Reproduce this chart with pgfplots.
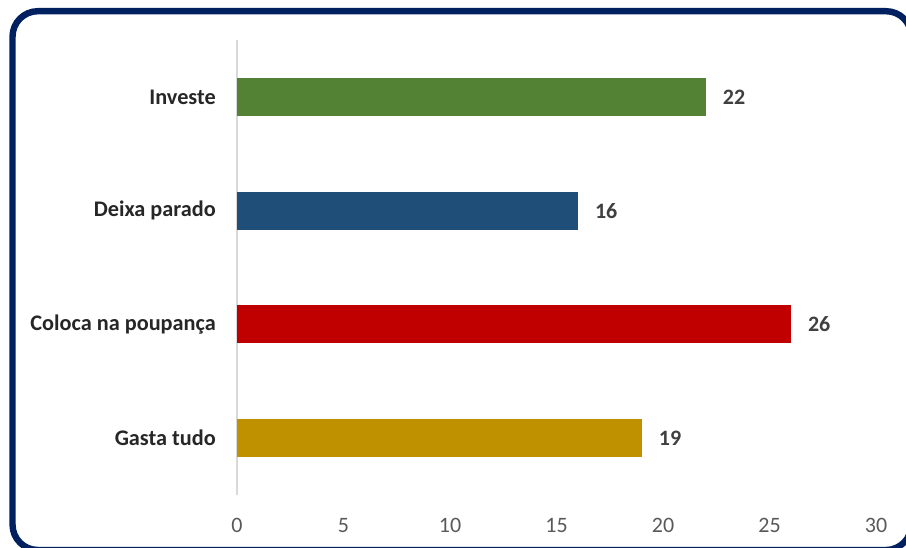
\documentclass[border=0pt]{standalone}
\usepackage{pgfplots}
\pgfplotsset{compat=1.18}
\usepackage{fontspec}
\setmainfont{Carlito}
\definecolor{cgreen}{HTML}{548235}
\definecolor{cblue}{HTML}{1F4E79}
\definecolor{cred}{HTML}{C00000}
\definecolor{cgold}{HTML}{BF9000}
\definecolor{frame}{HTML}{002060}
\definecolor{axgray}{HTML}{D9D9D9}
\definecolor{lblcol}{HTML}{262626}
\definecolor{valcol}{HTML}{404040}
\definecolor{tickcol}{HTML}{595959}
\begin{document}
\begin{tikzpicture}
\useasboundingbox (0,0) rectangle (679.5pt,-411pt);
\begin{scope}
\clip (0,0) rectangle (679.5pt,-411pt);
\draw[line width=4.8pt, draw=frame, rounded corners=19pt] (9.4pt,-8.4pt) rectangle (683.5pt,-412.5pt);
\end{scope}
\begin{axis}[
  at={(177.75pt,-371.25pt)}, anchor=south west,
  width=479.25pt, height=341.25pt, scale only axis,
  xmin=0, xmax=30, ymin=-0.5, ymax=3.5, y dir=reverse,
  xtick={0,5,10,15,20,25,30},
  ytick={0,1,2,3},
  yticklabels={Investe, Deixa parado, Coloca na poupança, Gasta tudo},
  axis lines*=left,
  x axis line style={draw=none},
  y axis line style={draw=axgray, line width=0.9pt},
  major tick length=0pt,
  /pgf/number format/assume math mode=true,
  xticklabel style={font=\fontsize{16.5pt}{18pt}\selectfont, text=tickcol, anchor=north, inner sep=0pt, yshift=-17pt},
  yticklabel style={font=\fontsize{16.7pt}{18pt}\selectfont\bfseries, text=lblcol, anchor=east, inner sep=0pt, xshift=-15.75pt},
  clip=false,
  point meta=x,
  nodes near coords,
  every node near coord/.append style={font=\fontsize{16.5pt}{18pt}\selectfont\bfseries, text=valcol, anchor=west, inner sep=0pt, xshift=12.75pt},
]
\addplot[xbar, bar shift=0pt, bar width=28.5pt, fill=cgreen, draw=none] coordinates {(22,0)};
\addplot[xbar, bar shift=0pt, bar width=28.5pt, fill=cblue, draw=none] coordinates {(16,1)};
\addplot[xbar, bar shift=0pt, bar width=28.5pt, fill=cred, draw=none] coordinates {(26,2)};
\addplot[xbar, bar shift=0pt, bar width=28.5pt, fill=cgold, draw=none] coordinates {(19,3)};
\end{axis}
\end{tikzpicture}
\end{document}
